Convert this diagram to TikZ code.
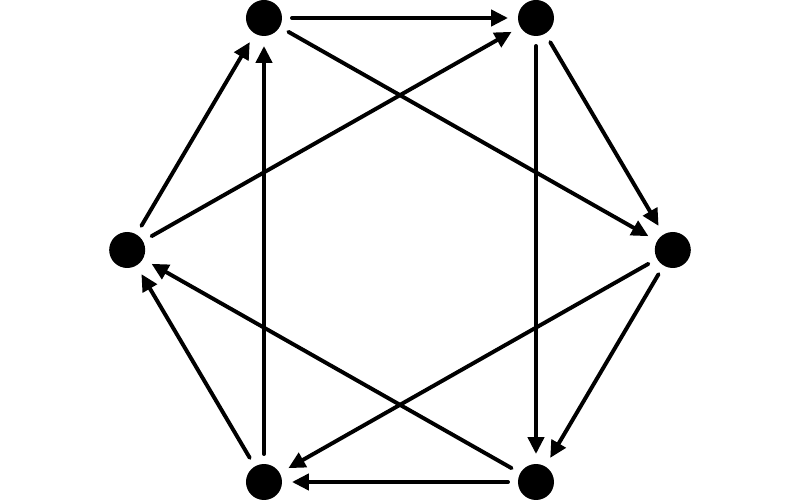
\documentclass[tikz,border=0pt]{standalone}
\usepackage{tikz}
\usetikzlibrary{arrows.meta}
\tikzstyle{Node}=[circle,fill=black,draw=none,minimum size=9mm,inner sep=0pt,
outer sep=2.5mm]
\tikzstyle{Edge}=[draw=black,line cap=round,line width=2.8pt,
-{Triangle[length=4.2mm,width=4mm]}]
\begin{document}
\begin{tikzpicture}
        \useasboundingbox(-10.00,-6.25)rectangle(10.00,6.25);
        \node[Node](tl)at(-3.40,5.80){};
        \node[Node](tr)at(3.40,5.80){};
        \node[Node](r)at(6.82,0.00){};
        \node[Node](br)at(3.40,-5.80){};
        \node[Node](bl)at(-3.40,-5.80){};
        \node[Node](l)at(-6.82,0.00){};
        \draw[Edge](tl)--(tr);
        \draw[Edge](tr)--(r);
        \draw[Edge](r)--(br);
        \draw[Edge](br)--(bl);
        \draw[Edge](bl)--(l);
        \draw[Edge](l)--(tl);
        \draw[Edge](tl)--(r);
        \draw[Edge](l)--(tr);
        \draw[Edge](tr)--(br);
        \draw[Edge](r)--(bl);
        \draw[Edge](br)--(l);
        \draw[Edge](bl)--(tl);
    \end{tikzpicture}
\end{document}
